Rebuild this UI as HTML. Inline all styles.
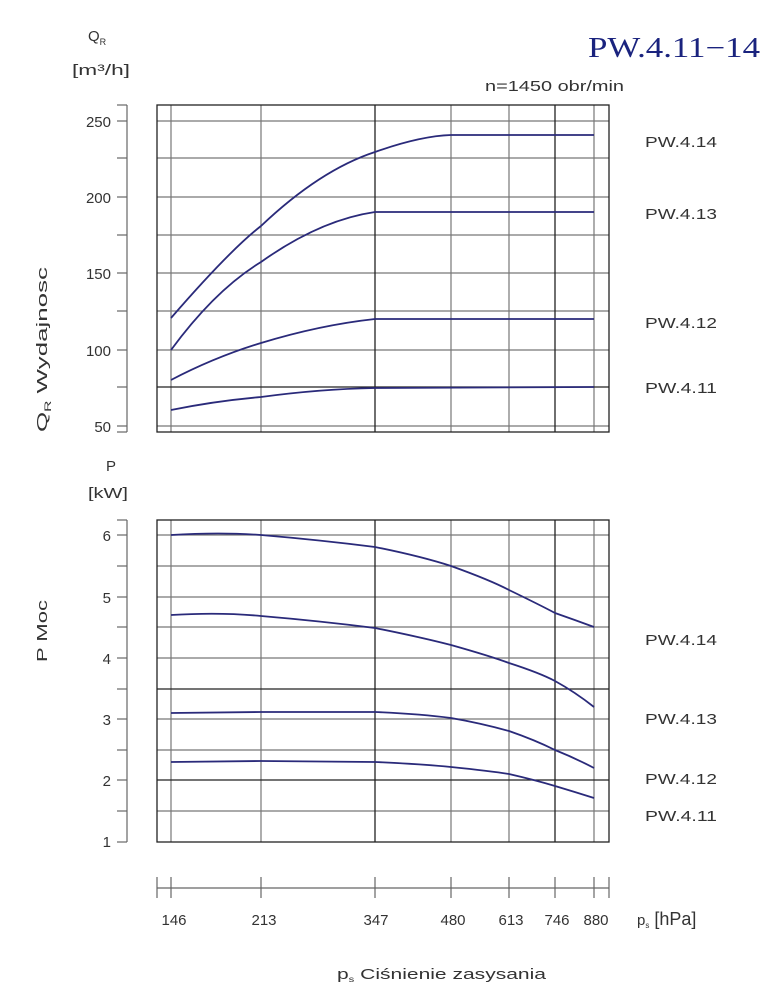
<!DOCTYPE html>
<html><head><meta charset="utf-8"><style>
html,body{margin:0;padding:0;background:#fff;}
svg{display:block;}
text{font-family:"Liberation Sans",sans-serif;fill:#333;font-size:15px;}
</style></head><body>
<svg width="781" height="1000" viewBox="0 0 781 1000" xmlns="http://www.w3.org/2000/svg">
<rect width="781" height="1000" fill="#fff"/>
<g stroke="#777" stroke-width="1.2" fill="none">
<line x1="157" y1="121" x2="609" y2="121"/><line x1="157" y1="158" x2="609" y2="158"/>
<line x1="157" y1="197" x2="609" y2="197"/><line x1="157" y1="235" x2="609" y2="235"/>
<line x1="157" y1="273" x2="609" y2="273"/><line x1="157" y1="311" x2="609" y2="311"/>
<line x1="157" y1="350" x2="609" y2="350"/><line x1="157" y1="426" x2="609" y2="426"/>
<line x1="171" y1="105" x2="171" y2="432"/><line x1="261" y1="105" x2="261" y2="432"/>
<line x1="451" y1="105" x2="451" y2="432"/><line x1="509" y1="105" x2="509" y2="432"/>
<line x1="594" y1="105" x2="594" y2="432"/>
<line x1="157" y1="535" x2="609" y2="535"/><line x1="157" y1="566" x2="609" y2="566"/>
<line x1="157" y1="597" x2="609" y2="597"/><line x1="157" y1="627" x2="609" y2="627"/>
<line x1="157" y1="658" x2="609" y2="658"/><line x1="157" y1="719" x2="609" y2="719"/>
<line x1="157" y1="750" x2="609" y2="750"/><line x1="157" y1="811" x2="609" y2="811"/>
<line x1="171" y1="520" x2="171" y2="842"/><line x1="261" y1="520" x2="261" y2="842"/>
<line x1="451" y1="520" x2="451" y2="842"/><line x1="509" y1="520" x2="509" y2="842"/>
<line x1="594" y1="520" x2="594" y2="842"/>
</g>
<g stroke="#222" stroke-width="1.3" fill="none">
<rect x="157" y="105" width="452" height="327"/>
<line x1="157" y1="387" x2="609" y2="387"/>
<line x1="375" y1="105" x2="375" y2="432"/><line x1="555" y1="105" x2="555" y2="432"/>
<rect x="157" y="520" width="452" height="322"/>
<line x1="157" y1="689" x2="609" y2="689"/><line x1="157" y1="780" x2="609" y2="780"/>
<line x1="375" y1="520" x2="375" y2="842"/><line x1="555" y1="520" x2="555" y2="842"/>
</g>
<g stroke="#666" stroke-width="1.2" fill="none">
<line x1="127" y1="105" x2="127" y2="432"/>
<line x1="117" y1="105" x2="127" y2="105"/>
<line x1="117" y1="121" x2="127" y2="121"/><line x1="117" y1="158" x2="127" y2="158"/>
<line x1="117" y1="197" x2="127" y2="197"/><line x1="117" y1="235" x2="127" y2="235"/>
<line x1="117" y1="273" x2="127" y2="273"/><line x1="117" y1="311" x2="127" y2="311"/>
<line x1="117" y1="350" x2="127" y2="350"/><line x1="117" y1="387" x2="127" y2="387"/>
<line x1="117" y1="426" x2="127" y2="426"/><line x1="117" y1="432" x2="127" y2="432"/>
<line x1="127" y1="520" x2="127" y2="842"/>
<line x1="117" y1="520" x2="127" y2="520"/>
<line x1="117" y1="535" x2="127" y2="535"/><line x1="117" y1="566" x2="127" y2="566"/>
<line x1="117" y1="597" x2="127" y2="597"/><line x1="117" y1="627" x2="127" y2="627"/>
<line x1="117" y1="658" x2="127" y2="658"/><line x1="117" y1="689" x2="127" y2="689"/>
<line x1="117" y1="719" x2="127" y2="719"/><line x1="117" y1="750" x2="127" y2="750"/>
<line x1="117" y1="780" x2="127" y2="780"/><line x1="117" y1="811" x2="127" y2="811"/>
<line x1="117" y1="842" x2="127" y2="842"/>
<line x1="157" y1="888" x2="609" y2="888"/>
<line x1="157" y1="877" x2="157" y2="898"/><line x1="171" y1="877" x2="171" y2="898"/>
<line x1="261" y1="877" x2="261" y2="898"/><line x1="375" y1="877" x2="375" y2="898"/>
<line x1="451" y1="877" x2="451" y2="898"/><line x1="509" y1="877" x2="509" y2="898"/>
<line x1="555" y1="877" x2="555" y2="898"/><line x1="594" y1="877" x2="594" y2="898"/>
<line x1="609" y1="877" x2="609" y2="898"/>
</g>
<g stroke="#2a2a7a" stroke-width="1.8" fill="none">
<path d="M171,318 Q230,250 261,226 Q320,170 375,152 Q420,136 451,135 L594,135"/>
<path d="M171,350 Q215,290 261,262 Q320,220 375,212 L594,212"/>
<path d="M171,380 Q215,357 261,343 Q320,325 375,319 L594,319"/>
<path d="M171,410 Q215,401 261,397 Q320,389 375,388 L594,387"/>
<path d="M171,535 Q220,532 261,535 Q320,540 375,547 Q420,556 451,566 Q490,580 509,590 Q540,605 555,613 Q575,620 594,627"/>
<path d="M171,615 Q220,612 261,616 Q320,621 375,628 Q420,637 451,645 Q490,656 509,663 Q540,673 555,681 Q575,692 594,707"/>
<path d="M171,713 L261,712 L375,712 Q420,714 451,718 Q480,723 509,731 Q535,740 555,750 Q575,758 594,768"/>
<path d="M171,762 L261,761 L375,762 Q420,764 451,767 Q490,771 509,774 Q535,780 555,786 Q575,792 594,798"/>
</g>
<text x="88" y="41" font-size="17">Q<tspan font-size="9" dy="4">R</tspan></text>
<text x="72" y="75" font-size="18" textLength="58" lengthAdjust="spacingAndGlyphs">[m³/h]</text>
<text x="588" y="57" textLength="172" lengthAdjust="spacingAndGlyphs" style="font-family:'Liberation Serif',serif;fill:#1a237e;font-size:28px;">PW.4.11−14</text>
<text x="485" y="91" textLength="139" lengthAdjust="spacingAndGlyphs">n=1450  obr/min</text>
<g text-anchor="end" font-size="16">
<text x="111" y="127">250</text><text x="111" y="203">200</text><text x="111" y="279">150</text>
<text x="111" y="356">100</text><text x="111" y="432">50</text>
<text x="111" y="541">6</text><text x="111" y="603">5</text><text x="111" y="664">4</text>
<text x="111" y="725">3</text><text x="111" y="786">2</text><text x="111" y="847">1</text>
</g>
<text transform="translate(47,432) rotate(-90)" font-size="16" textLength="165" lengthAdjust="spacingAndGlyphs">Q<tspan font-size="9" dy="4">R</tspan><tspan dy="-4">  Wydajnosc</tspan></text>
<text transform="translate(47,662) rotate(-90)" font-size="16" textLength="62" lengthAdjust="spacingAndGlyphs">P  Moc</text>
<text x="106" y="471" font-size="17">P</text>
<text x="88" y="498" font-size="17" textLength="40" lengthAdjust="spacingAndGlyphs">[kW]</text>
<g font-size="16">
<text x="645" y="147" textLength="72" lengthAdjust="spacingAndGlyphs">PW.4.14</text><text x="645" y="219" textLength="72" lengthAdjust="spacingAndGlyphs">PW.4.13</text>
<text x="645" y="328" textLength="72" lengthAdjust="spacingAndGlyphs">PW.4.12</text><text x="645" y="393" textLength="72" lengthAdjust="spacingAndGlyphs">PW.4.11</text>
<text x="645" y="645" textLength="72" lengthAdjust="spacingAndGlyphs">PW.4.14</text><text x="645" y="724" textLength="72" lengthAdjust="spacingAndGlyphs">PW.4.13</text>
<text x="645" y="784" textLength="72" lengthAdjust="spacingAndGlyphs">PW.4.12</text><text x="645" y="821" textLength="72" lengthAdjust="spacingAndGlyphs">PW.4.11</text>
</g>
<g text-anchor="middle" font-size="16">
<text x="174" y="925">146</text><text x="264" y="925">213</text><text x="376" y="925">347</text>
<text x="453" y="925">480</text><text x="511" y="925">613</text><text x="557" y="925">746</text>
<text x="596" y="925">880</text>
</g>
<text x="637" y="925" font-size="16">p<tspan font-size="8" dy="3">s</tspan><tspan dy="-3" font-size="18"> [hPa]</tspan></text>
<text x="337" y="979" font-size="16" textLength="209" lengthAdjust="spacingAndGlyphs">p<tspan font-size="8" dy="3">s</tspan><tspan dy="-3">  Ciśnienie  zasysania</tspan></text>
</svg>
</body></html>
